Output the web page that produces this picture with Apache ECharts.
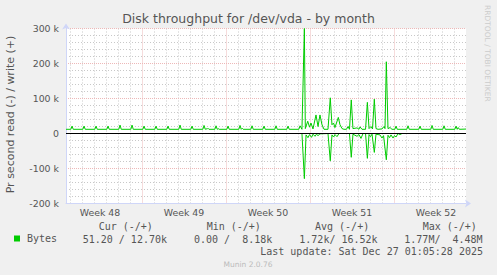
<!DOCTYPE html>
<html><head><meta charset="utf-8">
<script src="https://cdn.jsdelivr.net/npm/echarts@6/dist/echarts.min.js"></script>
<style>html,body{margin:0;padding:0;background:#F0F0F0}#c{width:497px;height:275px}</style>
</head><body><div id="c"></div>
<script>
// ---- data (x in days since start of Week 48; y in thousands of bytes/s) ----
const chartTitle = 'Disk throughput for /dev/vda - by month';
const yAxisTitle = 'Pr second read (-) / write (+)';
const yTicks = [-200, -100, 0, 100, 200, 300];
const weekStarts = [7, 14, 21, 28];
const weekCenters = [3.5, 10.5, 17.5, 24.5, 31.5];
const weekLabels = ['Week 48', 'Week 49', 'Week 50', 'Week 51', 'Week 52'];
const dayLines = [1, 2, 3, 4, 5, 6, 8, 9, 10, 11, 12, 13, 15, 16, 17, 18, 19, 20, 22, 23, 24, 25, 26, 27, 29, 30, 31, 32, 33];
const xRange = [0.6667, 34];
const seriesName = 'Bytes';
const writeKB = [
  [0.67, 12], [1.07, 12], [1.17, 21], [1.27, 12], [2.07, 12], [2.17, 21], [2.27, 12],
  [3.07, 12], [3.17, 21], [3.27, 12], [4.07, 12], [4.17, 21], [4.27, 12],
  [5.07, 12], [5.17, 24], [5.27, 12], [6.07, 12], [6.17, 24], [6.27, 12],
  [7.07, 12], [7.17, 21], [7.27, 12], [8.07, 12], [8.17, 21], [8.27, 12],
  [9.07, 12], [9.17, 21], [9.27, 12], [10.07, 12], [10.17, 24], [10.27, 12],
  [11.07, 12], [11.17, 21], [11.27, 12],
  [12.07, 12], [12.17, 23], [12.27, 12], [12.35, 14], [12.42, 12], [12.5, 15], [12.58, 12],
  [13.07, 12], [13.17, 22], [13.27, 12], [13.35, 14], [13.43, 12],
  [14.07, 12], [14.17, 21], [14.27, 12],
  [15.07, 12], [15.17, 23], [15.27, 12], [15.35, 15], [15.43, 12],
  [16.07, 12], [16.17, 22], [16.27, 12], [17.07, 12], [17.17, 21], [17.27, 12],
  [18.07, 12], [18.17, 22], [18.27, 12], [19.07, 12], [19.17, 21], [19.27, 12],
  [20.07, 12], [20.17, 22], [20.33, 12], [20.53, 300], [20.61, 14], [20.81, 35],
  [20.96, 18], [21.08, 30], [21.25, 13], [21.5, 53], [21.67, 20], [21.83, 53],
  [22.0, 25], [22.17, 12], [22.5, 12], [22.69, 102], [22.83, 25], [22.96, 30],
  [23.08, 17], [23.36, 46], [23.5, 25], [23.67, 14], [23.83, 12], [24.04, 12],
  [24.17, 20], [24.29, 12], [24.44, 96], [24.58, 14], [24.92, 16], [25.08, 12],
  [25.17, 19], [25.33, 12], [25.63, 12], [25.78, 89], [25.92, 14], [26.08, 20],
  [26.21, 13], [26.36, 98], [26.5, 14], [26.67, 12], [27.0, 13], [27.17, 20],
  [27.25, 14], [27.36, 205], [27.5, 14], [27.67, 17], [27.83, 12], [28.07, 12],
  [28.17, 21], [28.27, 12],
  [29.07, 12], [29.17, 22], [29.27, 12], [30.07, 12], [30.17, 21], [30.27, 12],
  [31.07, 12], [31.17, 23], [31.27, 12], [32.07, 12], [32.17, 22], [32.27, 12],
  [33.07, 12], [33.17, 21], [33.27, 12], [33.35, 17], [33.45, 12], [34.0, 12.7]
];
const readKB = [
  [0.67, 0], [20.33, 0], [20.53, -129], [20.67, -4], [20.83, -12], [20.96, -3],
  [21.13, -11], [21.25, -2], [21.42, -8], [21.54, -2], [21.67, -6], [21.83, -1],
  [22.5, 0], [22.69, -78], [22.83, -4], [22.96, -10], [23.08, -3], [23.25, -9],
  [23.42, 0], [24.29, 0], [24.44, -68], [24.58, -2], [24.92, -8], [25.08, -3],
  [25.25, -14], [25.42, 0], [25.63, 0], [25.78, -71], [25.92, -3], [26.04, -9],
  [26.17, -2], [26.36, -54], [26.5, -2], [26.83, -4], [27.0, -13], [27.13, -6],
  [27.36, -75], [27.5, -5], [27.63, -12], [27.75, -4], [27.92, -13], [28.04, -6],
  [28.17, -10], [28.33, 0], [28.5, -3], [28.67, 0], [34.0, -0.05]
];
const statHeaders = ['Cur (-/+)', 'Min (-/+)', 'Avg (-/+)', 'Max (-/+)'];
const statValues = ['51.20 / 12.70k', '0.00 /  8.18k', '1.72k/ 16.52k', '1.77M/  4.48M'];
const lastUpdate = 'Last update: Sat Dec 27 01:05:28 2025';
const footer = 'Munin 2.0.76';
const watermark = 'RRDTOOL / TOBI OETIKER';

// ---- styling ----
const sans = 'DejaVu Sans', mono = 'DejaVu Sans Mono';
const fontCol = '#555555';
const axisCol = '#CFD6F8';
const majorGrid = '#EDB8B8';
const minorGrid = '#C8C8C8';
const green = '#00CC00';
const headerX = [98.7, 206.7, 315, 422.7];
const valueX = [82.7, 194, 299.3, 404.3];

const chart = echarts.init(document.getElementById('c'), null, {renderer: 'svg', width: 497, height: 275});

const graphics = [];
graphics.push({type: 'text', x: 10, y: 114.5, rotation: Math.PI / 2,
  style: {text: yAxisTitle, font: '11px "' + sans + '"', fill: fontCol, align: 'center', verticalAlign: 'middle'}});
statHeaders.forEach((t, i) => graphics.push({type: 'text', x: headerX[i], y: 226.7,
  style: {text: t, font: '10px "' + mono + '"', fill: fontCol, align: 'left', verticalAlign: 'middle'}}));
statValues.forEach((t, i) => graphics.push({type: 'text', x: valueX[i], y: 239.7,
  style: {text: t, font: '10px "' + mono + '"', fill: fontCol, align: 'left', verticalAlign: 'middle'}}));
graphics.push({type: 'text', x: 483, y: 251.7,
  style: {text: lastUpdate, font: '10px "' + mono + '"', fill: fontCol, align: 'right', verticalAlign: 'middle'}});
graphics.push({type: 'text', x: 248, y: 264,
  style: {text: footer, font: '7.5px "' + sans + '"', fill: '#BBBBBB', align: 'center', verticalAlign: 'middle'}});
graphics.push({type: 'text', x: 487.5, y: 5, rotation: -Math.PI / 2,
  style: {text: watermark, font: '7.5px "' + sans + '"', fill: '#CCCCCC', align: 'left', verticalAlign: 'middle'}});

chart.setOption({
  animation: false,
  backgroundColor: '#F0F0F0',
  title: {text: chartTitle, left: 'center', top: 11.5, padding: 0,
    textStyle: {fontFamily: sans, fontSize: 12.5, fontWeight: 'normal', color: fontCol}},
  legend: {data: [seriesName], left: 14, top: 233.5, icon: 'rect', itemWidth: 6, itemHeight: 6, padding: 0,
    selectedMode: false, textStyle: {fontFamily: mono, fontSize: 10, color: fontCol, padding: [0, 0, 0, 2]}},
  grid: {left: 66, top: 28.5, width: 400, height: 175, show: true, backgroundColor: '#FFFFFF', borderWidth: 0},
  xAxis: [
    {type: 'value', min: xRange[0], max: xRange[1], position: 'bottom', z: 2,
      axisLine: {show: true, onZero: false, lineStyle: {color: axisCol, width: 1},
        symbol: ['none', 'arrow'], symbolSize: [6, 6], symbolOffset: [0, 5]},
      axisTick: {show: false, customValues: weekStarts},
      splitLine: {show: true, lineStyle: {color: majorGrid, type: [1, 1], width: 1}},
      axisLabel: {customValues: weekCenters, formatter: v => weekLabels[weekCenters.indexOf(v)],
        color: fontCol, fontFamily: sans, fontSize: 9.4, margin: 4}},
    {type: 'value', min: xRange[0], max: xRange[1], position: 'top', z: 1,
      axisLine: {show: false}, axisTick: {show: false, customValues: dayLines}, axisLabel: {show: false},
      splitLine: {show: true, lineStyle: {color: minorGrid, type: [1, 2], width: 1}}}
  ],
  yAxis: {type: 'value', min: yTicks[0], max: yTicks[yTicks.length - 1], interval: yTicks[1] - yTicks[0], z: 2,
    axisLine: {show: true, lineStyle: {color: axisCol, width: 1},
      symbol: ['none', 'arrow'], symbolSize: [6, 6], symbolOffset: [0, 5]},
    axisTick: {show: false},
    axisLabel: {formatter: v => v === 0 ? '0' : v + ' k', color: fontCol, fontFamily: sans, fontSize: 9.4, margin: 7},
    splitLine: {show: true, lineStyle: {color: majorGrid, type: [1, 1], width: 1}},
    minorTick: {show: false, splitNumber: 5},
    minorSplitLine: {show: true, lineStyle: {color: minorGrid, type: [1, 2], width: 1}}},
  series: [
    {name: seriesName + ' read', type: 'line', data: readKB, showSymbol: false, symbol: 'none',
      lineStyle: {color: green, width: 1}, itemStyle: {color: green},
      markLine: {silent: true, symbol: 'none', label: {show: false}, animation: false,
        lineStyle: {color: '#000000', width: 1.2, type: 'solid'}, data: [{yAxis: 0}]}},
    {name: seriesName, type: 'line', data: writeKB, showSymbol: false, symbol: 'none',
      lineStyle: {color: green, width: 1}, itemStyle: {color: green}}
  ],
  graphic: graphics
});
</script></body></html>
